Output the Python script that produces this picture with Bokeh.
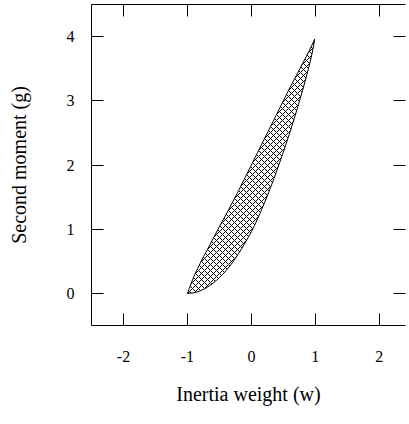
from bokeh.plotting import figure
from bokeh.models import LinearAxis, FixedTicker, Range1d, CustomLabelingPolicy
from bokeh.embed import file_html
from bokeh.resources import INLINE

# Region boundary (upper / left edge)
upper_w = [-1.0, -0.97, -0.94, -0.9, -0.85, -0.8, -0.75, -0.7, -0.6, -0.5, -0.4, -0.3,
           -0.2, -0.1, 0.0, 0.1, 0.2, 0.3, 0.4, 0.5, 0.6, 0.7, 0.8, 0.9, 0.99]
upper_g = [0.0, 0.08, 0.16, 0.26, 0.37, 0.47, 0.57, 0.66, 0.85, 1.04, 1.22, 1.41,
           1.6, 1.8, 2.0, 2.2, 2.4, 2.6, 2.8, 3.0, 3.2, 3.39, 3.58, 3.77, 3.96]
# lower / right edge
lower_w = [-1.0, -0.95, -0.9, -0.85, -0.8, -0.75, -0.7, -0.65, -0.6, -0.55, -0.5, -0.45,
           -0.4, -0.35, -0.3, -0.25, -0.2, -0.15, -0.1, -0.05, 0.0, 0.05, 0.1, 0.15,
           0.2, 0.25, 0.3, 0.35, 0.4, 0.45, 0.5, 0.55, 0.6, 0.65, 0.7, 0.75, 0.8,
           0.85, 0.9, 0.95, 0.99]
lower_g = [0.0, 0.003, 0.01, 0.023, 0.04, 0.062, 0.09, 0.122, 0.16, 0.2, 0.245, 0.295,
           0.35, 0.41, 0.475, 0.545, 0.62, 0.7, 0.785, 0.87, 0.96, 1.06, 1.17, 1.28,
           1.4, 1.52, 1.65, 1.78, 1.92, 2.06, 2.2, 2.35, 2.5, 2.66, 2.82, 2.99, 3.16,
           3.34, 3.53, 3.74, 3.96]

x_ticks = [-2, -1, 0, 1, 2]
x_tick_labels = ["-2", "-1", "0", "1", "2"]
y_ticks = [0, 1, 2, 3, 4]
y_tick_labels = ["0", "1", "2", "3", "4"]

FONT = "Liberation Serif"

p = figure(width=409, height=424,
           x_range=Range1d(-2.5, 2.41), y_range=Range1d(-0.5, 4.5),
           output_backend="svg", toolbar_location=None,
           min_border_left=91, min_border_top=3, min_border_bottom=99, min_border_right=0,
           x_axis_label="Inertia weight (w)", y_axis_label="Second moment (g)")

p.xgrid.grid_line_color = None
p.ygrid.grid_line_color = None
p.outline_line_color = None
p.background_fill_color = "white"
p.border_fill_color = "white"

xs = upper_w + lower_w[::-1]
ys = upper_g + lower_g[::-1]
p.patch(xs, ys, fill_color="white", line_color="black", line_width=1,
        hatch_pattern="diagonal_cross", hatch_color="black", hatch_scale=6, hatch_weight=1)

for ax in p.xaxis:
    ax.ticker = FixedTicker(ticks=x_ticks)
    ax.major_label_overrides = dict(zip(x_ticks, x_tick_labels))
    ax.major_label_standoff = 25
    ax.axis_label_standoff = 18
for ax in p.yaxis:
    ax.ticker = FixedTicker(ticks=y_ticks)
    ax.major_label_overrides = dict(zip(y_ticks, y_tick_labels))
    ax.major_label_standoff = 17
    ax.axis_label_standoff = 34

for ax in list(p.xaxis) + list(p.yaxis):
    ax.major_tick_in = 12
    ax.major_tick_out = 0
    ax.minor_tick_line_color = None
    ax.axis_line_color = "black"
    ax.major_tick_line_color = "black"
    ax.major_label_text_font = FONT
    ax.major_label_text_font_size = "16px"
    ax.major_label_text_color = "black"
    ax.axis_label_text_font = FONT
    ax.axis_label_text_font_size = "20px"
    ax.axis_label_text_font_style = "normal"
    ax.axis_label_text_color = "black"

hide_all = "for (let i = 0; i < indices.size; i++) { indices.unset(i) }\nreturn indices"

top_ax = LinearAxis(ticker=FixedTicker(ticks=x_ticks), major_tick_in=12, major_tick_out=0,
                    major_label_policy=CustomLabelingPolicy(code=hide_all), major_label_standoff=0,
                    major_label_text_font_size="1px",
                    minor_tick_line_color=None, axis_line_color="black", major_tick_line_color="black")
right_ax = LinearAxis(ticker=FixedTicker(ticks=y_ticks), major_tick_in=12, major_tick_out=0,
                      major_label_policy=CustomLabelingPolicy(code=hide_all), major_label_standoff=0,
                      major_label_text_font_size="1px",
                      minor_tick_line_color=None, axis_line_color=None, major_tick_line_color="black")
p.add_layout(top_ax, "above")
p.add_layout(right_ax, "right")

open("out.html", "w").write(file_html(p, INLINE))
